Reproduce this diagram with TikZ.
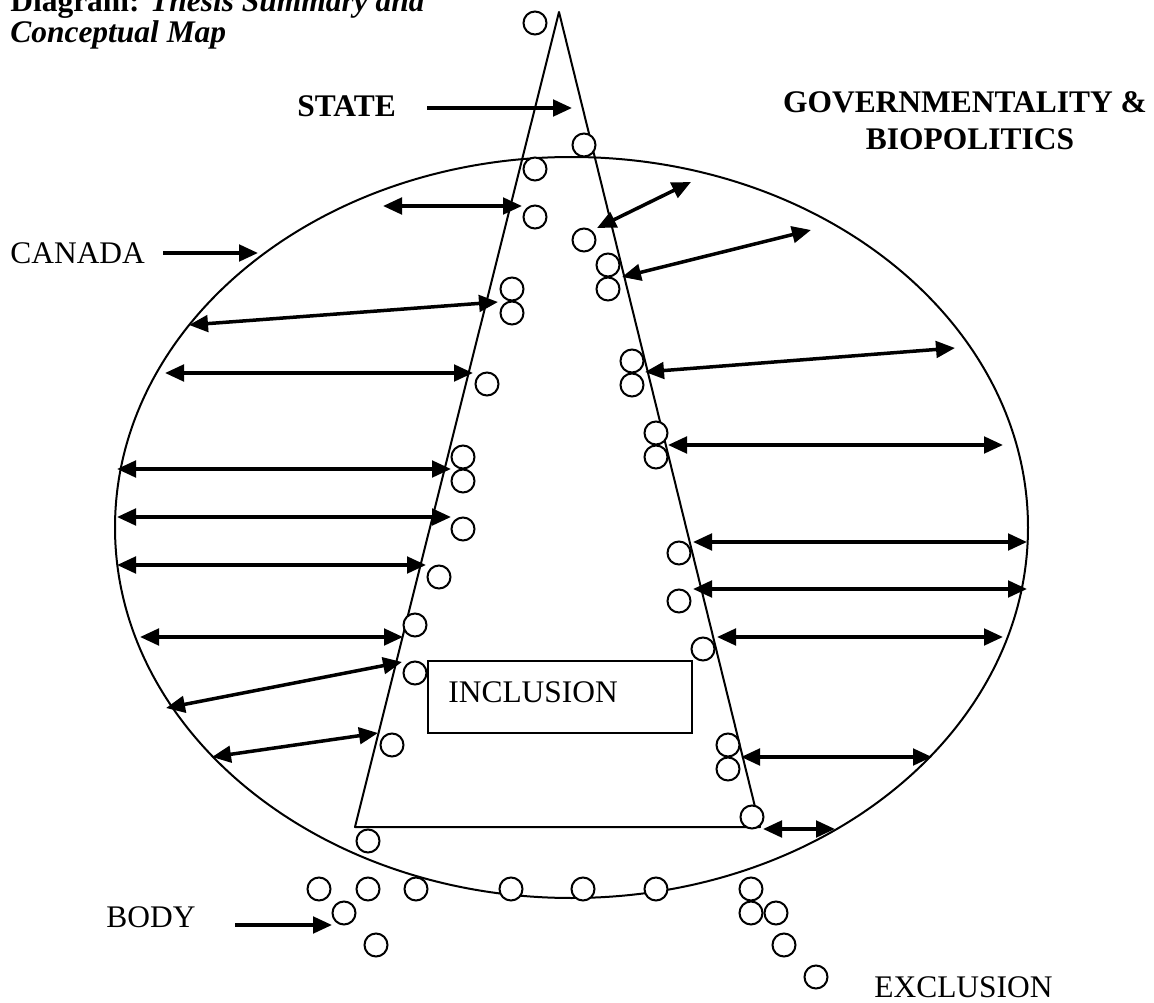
\documentclass[tikz,border=0pt]{standalone}
\usepackage{fontspec}
\setmainfont{Liberation Serif}
\usepackage{tkz-euclide}
\usetikzlibrary{arrows.meta}
\tikzset{
  lbl/.style={anchor=base west,inner sep=0pt,font=\fontsize{17.9}{21.5}\selectfont},
  link/.style={line width=0.7mm,{Triangle[length=3.8mm,width=3.3mm]}-{Triangle[length=3.8mm,width=3.3mm]}},
  pointer/.style={line width=0.7mm,-{Triangle[length=3.8mm,width=3.3mm]}},
  bead/.style={line width=0.4mm,fill=white},
}

\begin{document}
\begin{tikzpicture}[x=0.2mm,y=-0.2mm]
\clip (0,0) rectangle (1154,1003);

\tkzDefPoints{559/12/A,355/827/B,760/827/C}

% ends of the arrows, outer (ellipse) and inner (triangle)
\tkzDefPoints{383/206/Lo1,522/206/Li1,189/325/Lo2,498/302/Li2,165/373/Lo3,473/373/Li3,
  117/469/Lo4,451/469/Li4,117/517/Lo5,451/517/Li5,117/565/Lo6,426/565/Li6,
  140/637/Lo7,403/637/Li7,166/708/Lo8,402/662/Li8,212/757/Lo9,378/733/Li9}
\tkzDefPoints{691/182/Ro1,597/228/Ri1,811/230/Ro2,622/277/Ri2,955/348/Ro3,645/372/Ri3,
  1003/445/Ro4,668/445/Ri4,1027/542/Ro5,693/542/Ri5,1027/589/Ro6,693/589/Ri6,
  1003/637/Ro7,717/637/Ri7,932/757/Ro8,741/757/Ri8,835/829/Ro9,763/829/Ri9}
\tkzDefPoints{427/108/Ps,572/108/Qs,163/253/Pc,258/253/Qc,235/925/Pb,332/925/Qb}

\draw[line width=0.4mm] (571.5,527.5) ellipse [x radius=456.5,y radius=370.5];
\tkzDrawPolygon[line width=0.4mm,color=black](A,B,C)
\draw[line width=0.35mm] (428,661) rectangle (692,733);

\foreach \i in {1,...,9}{
  \draw[link] (Lo\i) -- (Li\i);
  \draw[link] (Ri\i) -- (Ro\i);
}
\foreach \p/\q in {Ps/Qs,Pc/Qc,Pb/Qb}
  \draw[pointer] (\p) -- (\q);

% the bodies
\foreach \x/\y in {535/23,584/145,535/169,535/217,584/240,608/265,608/289,512/289,512/313,
  487/384,632/361,632/385,656/433,656/457,463/457,463/481,463/529,439/577,679/553,
  679/601,415/625,415/673,703/649,392/745,728/745,728/769,752/817,368/841,
  319/889,368/889,416/889,511/889,583/889,656/889,751/889,
  344/913,751/913,776/913,376/945,784/945,816/977}
  \draw[bead] (\x,\y) circle [radius=11.5];

\node[lbl] (title) at (10,12) {\textbf{Diagram:} \textbf{\textit{Thesis Summary and}}};
\node[lbl] (subtitle) at (10,43) {\textbf{\textit{Conceptual Map}}};
\node[lbl,font=\fontsize{17.9}{21.5}\selectfont\bfseries] (state) at (297,117) {STATE};
\node[lbl,anchor=base,font=\fontsize{17.9}{21.5}\selectfont\bfseries] (gov) at (965,113) {GOVERNMENTALITY \&};
\node[lbl,anchor=base,font=\fontsize{17.9}{21.5}\selectfont\bfseries] (bio) at (970,150) {BIOPOLITICS};
\node[lbl] (canada) at (10,263) {CANADA};
\node[lbl] (incl) at (448,702) {INCLUSION};
\node[lbl] (body) at (106,927) {BODY};
\node[lbl] (excl) at (874,997) {EXCLUSION};

\end{tikzpicture}
\end{document}
